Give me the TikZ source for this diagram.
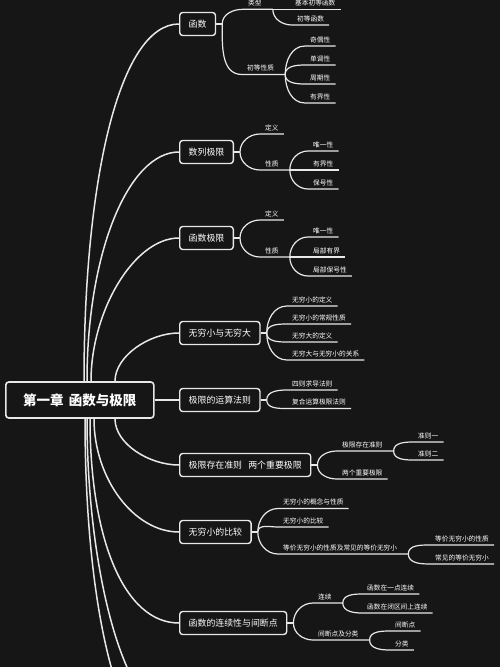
\documentclass[tikz,border=0pt]{standalone}
\usepackage{fontspec}
\setmainfont{Noto Sans CJK SC}
\definecolor{bgdark}{HTML}{161616}
\definecolor{inkline}{HTML}{E8E8E8}

\begin{document}
\begin{tikzpicture}[x=1pt, y=1pt,
  rootbox/.style={draw=inkline, line width=1.6pt, rounded corners=3pt, fill=bgdark, text=white,
    font=\fontsize{13.5}{15}\selectfont\bfseries, minimum width=148pt, minimum height=36pt, inner sep=0pt, anchor=west},
  topicbox/.style={draw=inkline, line width=1.4pt, rounded corners=3pt, fill=bgdark, text=white,
    font=\fontsize{8.9}{10}\selectfont, inner xsep=9pt, minimum height=23pt, anchor=west},
  leaf/.style={text=white, font=\fontsize{6.7}{7}\selectfont, inner xsep=5pt, inner ysep=3pt, anchor=south west},
  trunk/.style={draw=inkline, line width=1.5pt},
  twig/.style={draw=inkline, line width=1.2pt},
  rise/.style={out=90, in=180},
  fall/.style={out=-90, in=180}]
  % page and frame
  \fill[bgdark] (0,0) rectangle (500,-667);
  \useasboundingbox (0,0) rectangle (500,-667);
  \clip (0,0) rectangle (500,-667);

  % centre topic and main topics
  \node[rootbox] (root) at (5,-400) {第一章\hspace{0.4em}函数与极限};
  \node[topicbox] (hs) at (179,-24) {函数};
  \node[topicbox] (sl) at (179,-152) {数列极限};
  \node[topicbox] (hj) at (179,-238) {函数极限};
  \node[topicbox] (wq) at (179,-333) {无穷小与无穷大};
  \node[topicbox] (ys) at (179,-400) {极限的运算法则};
  \node[topicbox] (cz) at (179,-465) {极限存在准则\hspace{0.7em}两个重要极限};
  \node[topicbox] (bj) at (179,-532) {无穷小的比较};
  \node[topicbox] (lx) at (179,-623) {函数的连续性与间断点};
  % two more main topics lie below the frame
  \coordinate (off1) at (179,-760);
  \coordinate (off2) at (179,-720);

  % curves from the centre topic
  \draw[trunk] ([xshift=79pt]root.north west) .. controls +(0,200) and +(-60,0) .. (hs.west);
  \draw[trunk] ([xshift=82pt]root.north west) .. controls +(0,130) and +(-50,0) .. (sl.west);
  \draw[trunk] ([xshift=86pt]root.north west) .. controls +(0,70) and +(-45,0) .. (hj.west);
  \draw[trunk] ([xshift=110pt]root.north west) .. controls +(0,25) and +(-30,0) .. (wq.west);
  \draw[trunk] (root.east) -- (ys.west);
  \draw[trunk] ([xshift=110pt]root.south west) .. controls +(0,-25) and +(-30,0) .. (cz.west);
  \draw[trunk] ([xshift=89pt]root.south west) .. controls +(0,-60) and +(-45,0) .. (bj.west);
  \draw[trunk] ([xshift=85pt]root.south west) .. controls +(0,-120) and +(-55,0) .. (lx.west);
  \draw[trunk] ([xshift=82pt]root.south west) .. controls +(0,-150) and +(-55,0) .. (off2);
  \draw[trunk] ([xshift=80pt]root.south west) .. controls +(0,-190) and +(-60,0) .. (off1);

  % 函数
  \node[leaf] (lei) at (243,-9.3) {类型};
  \node[leaf] (jb) at (290,-9.3) {基本初等函数};
  \node[leaf] (cd) at (292,-25) {初等函数};
  \node[leaf] (cx) at (242,-74.5) {初等性质};
  \node[leaf] (jo) at (305,-46) {奇偶性};
  \node[leaf] (dd) at (305,-65) {单调性};
  \node[leaf] (zq) at (305,-84) {周期性};
  \node[leaf] (yj) at (305,-103) {有界性};
  \draw[trunk] (hs.east) -- ++(6,0) coordinate (hsx);
  \draw[twig] (hsx) to[rise] (lei.south west) -- (lei.south east) -- ++(6,0) coordinate (leix);
  \draw[twig] (leix) -- (jb.south west) -- (jb.south east);
  \draw[twig] (leix) to[fall] (cd.south west) -- (cd.south east);
  \draw[twig] (hsx) to[fall] (cx.south west) -- (cx.south east) -- ++(6,0) coordinate (cxx);
  \draw[twig] (cxx) to[rise] (jo.south west) -- (jo.south east);
  \draw[twig] (cxx) to[rise] (dd.south west) -- (dd.south east);
  \draw[twig] (cxx) to[fall] (zq.south west) -- (zq.south east);
  \draw[twig] (cxx) to[fall] (yj.south west) -- (yj.south east);

  % 数列极限
  \node[leaf] (sd1) at (260,-134) {定义};
  \node[leaf] (sx1) at (260,-170) {性质};
  \node[leaf] (s11) at (308,-151) {唯一性};
  \node[leaf] (s12) at (308,-170) {有界性};
  \node[leaf] (s13) at (308,-189) {保号性};
  \draw[trunk] (sl.east) -- ++(6,0) coordinate (slx);
  \draw[twig] (slx) to[rise] (sd1.south west) -- (sd1.south east);
  \draw[twig] (slx) to[fall] (sx1.south west) -- (sx1.south east) -- ++(6,0) coordinate (sx1x);
  \draw[twig] (sx1x) to[rise] (s11.south west) -- (s11.south east);
  \draw[twig] (sx1x) -- (s12.south west) -- (s12.south east);
  \draw[twig] (sx1x) to[fall] (s13.south west) -- (s13.south east);

  % 函数极限
  \node[leaf] (sd2) at (260,-220) {定义};
  \node[leaf] (sx2) at (260,-257) {性质};
  \node[leaf] (s21) at (308,-237) {唯一性};
  \node[leaf] (s22) at (308,-257) {局部有界};
  \node[leaf] (s23) at (308,-276) {局部保号性};
  \draw[trunk] (hj.east) -- ++(6,0) coordinate (hjx);
  \draw[twig] (hjx) to[rise] (sd2.south west) -- (sd2.south east);
  \draw[twig] (hjx) to[fall] (sx2.south west) -- (sx2.south east) -- ++(6,0) coordinate (sx2x);
  \draw[twig] (sx2x) to[rise] (s21.south west) -- (s21.south east);
  \draw[twig] (sx2x) -- (s22.south west) -- (s22.south east);
  \draw[twig] (sx2x) to[fall] (s23.south west) -- (s23.south east);

  % 无穷小与无穷大
  \node[leaf] (w1) at (287,-306) {无穷小的定义};
  \node[leaf] (w2) at (287,-324) {无穷小的常规性质};
  \node[leaf] (w3) at (287,-342) {无穷大的定义};
  \node[leaf] (w4) at (287,-360) {无穷大与无穷小的关系};
  \draw[trunk] (wq.east) -- ++(6,0) coordinate (wqx);
  \draw[twig] (wqx) to[rise] (w1.south west) -- (w1.south east);
  \draw[twig] (wqx) to[rise] (w2.south west) -- (w2.south east);
  \draw[twig] (wqx) to[fall] (w3.south west) -- (w3.south east);
  \draw[twig] (wqx) to[fall] (w4.south west) -- (w4.south east);

  % 极限的运算法则
  \node[leaf] (y1) at (287,-390) {四则求导法则};
  \node[leaf] (y2) at (287,-408.5) {复合运算极限法则};
  \draw[trunk] (ys.east) -- ++(6,0) coordinate (ysx);
  \draw[twig] (ysx) to[rise] (y1.south west) -- (y1.south east);
  \draw[twig] (ysx) to[fall] (y2.south west) -- (y2.south east);

  % 极限存在准则 两个重要极限
  \node[leaf] (c1) at (337,-451) {极限存在准则};
  \node[leaf] (c2) at (337,-479) {两个重要极限};
  \node[leaf] (c11) at (413,-442) {准则一};
  \node[leaf] (c12) at (413,-460) {准则二};
  \draw[trunk] (cz.east) -- ++(6,0) coordinate (czx);
  \draw[twig] (czx) to[rise] (c1.south west) -- (c1.south east) -- ++(6,0) coordinate (c1x);
  \draw[twig] (czx) to[fall] (c2.south west) -- (c2.south east);
  \draw[twig] (c1x) to[rise] (c11.south west) -- (c11.south east);
  \draw[twig] (c1x) to[fall] (c12.south west) -- (c12.south east);

  % 无穷小的比较
  \node[leaf] (b1) at (278,-508.5) {无穷小的概念与性质};
  \node[leaf] (b2) at (278,-527) {无穷小的比较};
  \node[leaf] (b3) at (278,-554) {等价无穷小的性质及常见的等价无穷小};
  \node[leaf] (b31) at (430,-545) {等价无穷小的性质};
  \node[leaf] (b32) at (430,-564) {常见的等价无穷小};
  \draw[trunk] (bj.east) -- ++(6,0) coordinate (bjx);
  \draw[twig] (bjx) to[rise] (b1.south west) -- (b1.south east);
  \draw[twig] (bjx) to[rise] (b2.south west) -- (b2.south east);
  \draw[twig] (bjx) to[fall] (b3.south west) -- (b3.south east) -- ++(6,0) coordinate (b3x);
  \draw[twig] (b3x) to[rise] (b31.south west) -- (b31.south east);
  \draw[twig] (b3x) to[fall] (b32.south west) -- (b32.south east);

  % 函数的连续性与间断点
  \node[leaf] (l1) at (313,-603) {连续};
  \node[leaf] (l2) at (313,-640) {间断点及分类};
  \node[leaf] (l11) at (362,-594) {函数在一点连续};
  \node[leaf] (l12) at (362,-613) {函数在闭区间上连续};
  \node[leaf] (l21) at (390,-631) {间断点};
  \node[leaf] (l22) at (390,-650) {分类};
  \draw[trunk] (lx.east) -- ++(6,0) coordinate (lxx);
  \draw[twig] (lxx) to[rise] (l1.south west) -- (l1.south east) -- ++(6,0) coordinate (l1x);
  \draw[twig] (lxx) to[fall] (l2.south west) -- (l2.south east) -- ++(6,0) coordinate (l2x);
  \draw[twig] (l1x) to[rise] (l11.south west) -- (l11.south east);
  \draw[twig] (l1x) to[fall] (l12.south west) -- (l12.south east);
  \draw[twig] (l2x) to[rise] (l21.south west) -- (l21.south east);
  \draw[twig] (l2x) to[fall] (l22.south west) -- (l22.south east);
\end{tikzpicture}
\end{document}
